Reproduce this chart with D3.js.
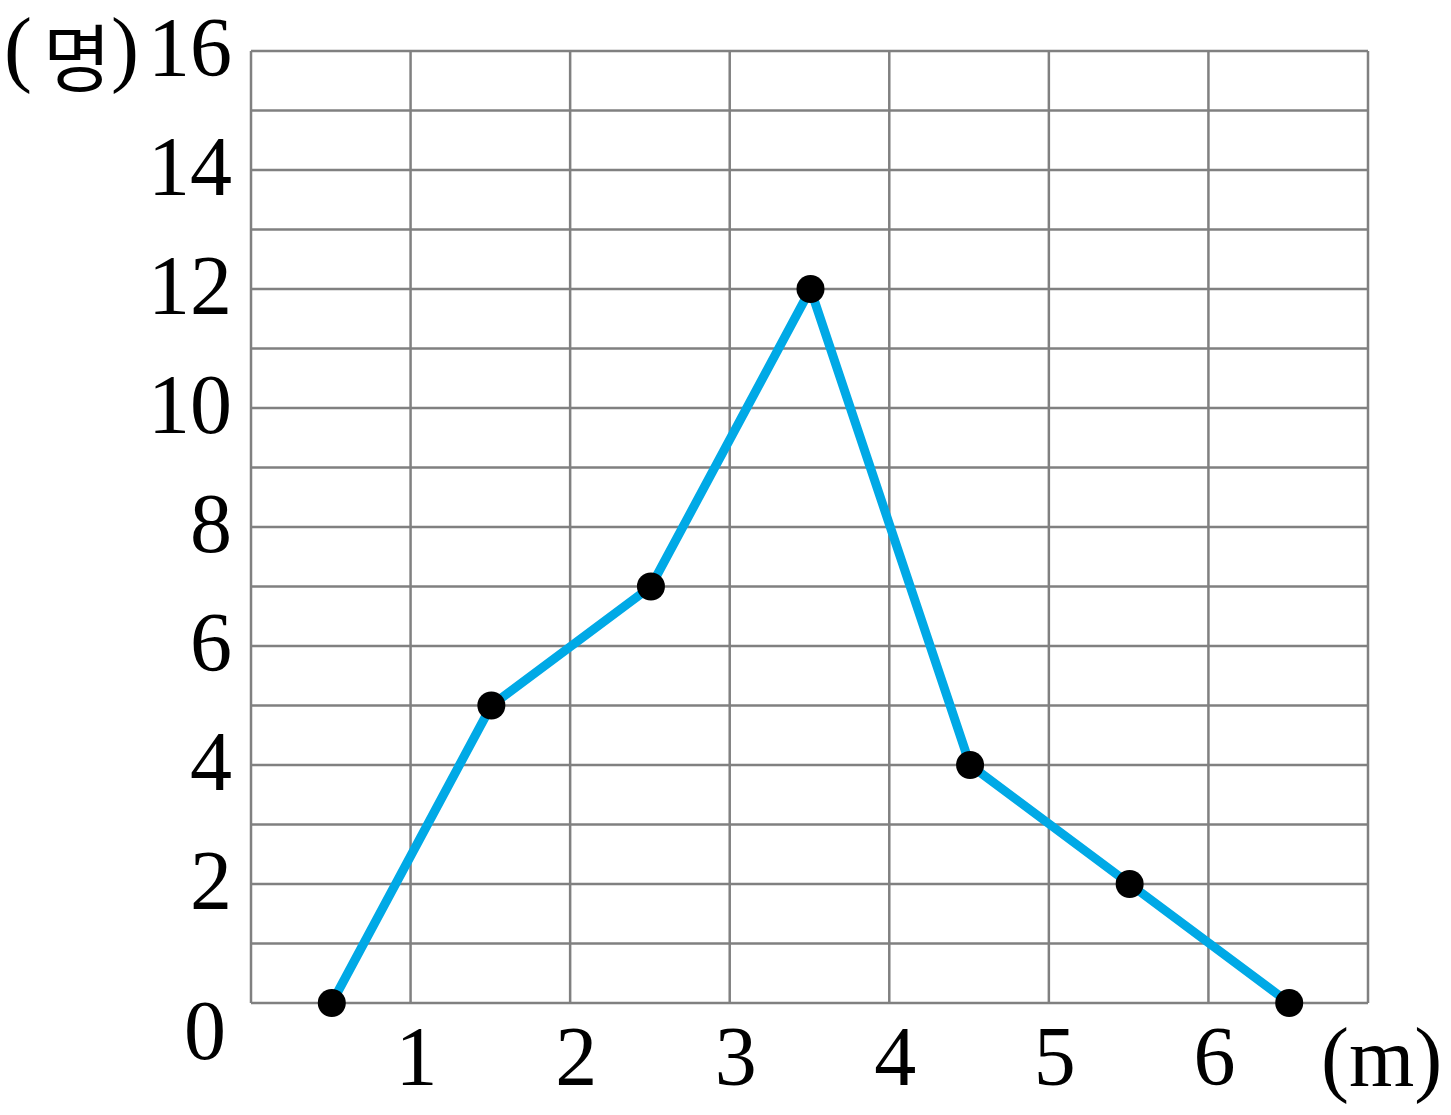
<!DOCTYPE html>
<html><head><meta charset="utf-8">
<script src="https://cdn.jsdelivr.net/npm/d3@7"></script>
<style>html,body{margin:0;padding:0;background:#fff;}</style>
</head><body>
<svg id="c" width="1451" height="1115"></svg>
<script>
const xCenters = [0.5,1.5,2.5,3.5,4.5,5.5,6.5];
const counts = [0,5,7,12,4,2,0];
const xTicks = [1,2,3,4,5,6];
const yTicks = [2,4,6,8,10,12,14,16];
const xMax = 7, yMax = 16;

const svg = d3.select("#c");
const L=251,R=1368,T=51,B=1003;
const x = d3.scaleLinear().domain([0,xMax]).range([L,R]);
const y = d3.scaleLinear().domain([0,yMax]).range([B,T]);
const font = "'Liberation Serif','Times New Roman',serif";
const grid = svg.append("g").attr("stroke","#808080").attr("stroke-width",2.5);
grid.selectAll(".v").data(d3.range(0,xMax+1)).join("line")
  .attr("x1",d=>x(d)).attr("x2",d=>x(d)).attr("y1",T).attr("y2",B);
grid.selectAll(".h").data(d3.range(0,yMax+1)).join("line")
  .attr("y1",d=>y(d)).attr("y2",d=>y(d)).attr("x1",L).attr("x2",R);

const pts = xCenters.map((c,i)=>[c,counts[i]]);
svg.append("path").datum(pts)
  .attr("d",d3.line().x(d=>x(d[0])+1).y(d=>y(d[1])))
  .attr("fill","none").attr("stroke","#00a9e6").attr("stroke-width",9).attr("stroke-linejoin","miter");
svg.selectAll("circle").data(pts).join("circle")
  .attr("cx",d=>x(d[0])+1).attr("cy",d=>y(d[1])).attr("r",14).attr("fill","#000");

const fs = 84;
svg.append("g").selectAll("text").data(yTicks).join("text")
  .attr("x",232).attr("y",d=>y(d)+25).attr("text-anchor","end")
  .attr("font-family",font).attr("font-size",fs).text(d=>d);
svg.append("text").attr("x",226).attr("y",B+56).attr("text-anchor","end")
  .attr("font-family",font).attr("font-size",fs).text("0");
svg.append("g").selectAll("text").data(xTicks).join("text")
  .attr("x",d=>x(d)+6).attr("y",1085).attr("text-anchor","middle")
  .attr("font-family",font).attr("font-size",fs).text(d=>d);
svg.append("text").attr("x",1321).attr("y",1086)
  .attr("font-family",font).attr("font-size",fs).text("(m)");
svg.append("text").attr("x",4).attr("y",76).attr("font-size",fs).attr("font-family",font).text("(");
svg.append("text").attr("x",77).attr("y",86).attr("text-anchor","middle")
  .attr("font-size",74).attr("font-family","'Noto Sans CJK KR'").text("명");
svg.append("text").attr("x",111).attr("y",76).attr("font-size",fs).attr("font-family",font).text(")");
</script>
</body></html>
